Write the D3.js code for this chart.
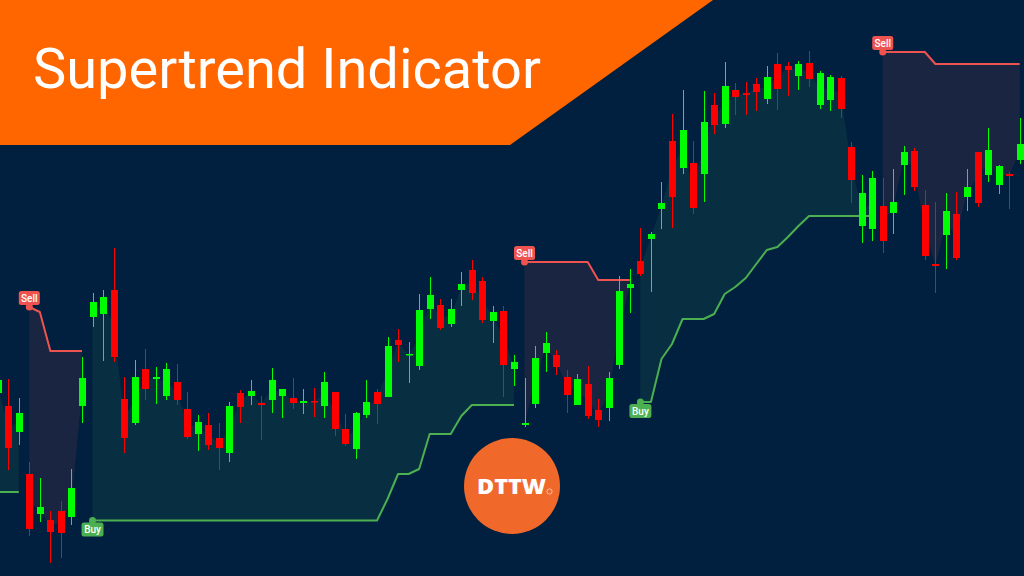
<!DOCTYPE html>
<html><head><meta charset="utf-8">
<script src="https://cdn.jsdelivr.net/npm/d3@7"></script>
<style>html,body{margin:0;padding:0;background:#01203f;overflow:hidden}</style>
</head><body>
<svg id="c" width="1024" height="576"></svg>
<script>
// ---- data (price units) ----
const opens  = [183,170,144,102,62,56,65,59,170,259,262,286,177,153,207,197,180,194,167,142,151,138,123,183,180,173,176,180,178,173,175,170,184,147,127,161,184,179,236,221,210,267,271,252,286,306,295,255,265,207,151,172,223,221,199,171,192,166,168,211,288,315,337,367,435,408,413,402,471,452,486,483,492,477,512,510,500,513,471,476,498,429,350,347,370,363,411,425,371,312,341,362,379,424,401,391,402,416];
const highs  = [202,197,178,114,98,65,75,107,219,283,286,328,199,216,227,209,213,212,184,161,163,153,174,186,196,180,208,187,198,187,188,204,184,162,164,196,187,239,247,234,282,299,277,277,304,316,299,270,270,221,198,230,244,226,206,202,210,177,204,300,307,348,344,394,462,486,435,485,483,514,493,494,498,510,523,514,515,525,505,501,500,434,401,405,398,407,430,428,386,374,383,384,407,424,448,411,404,458];
const lows   = [176,106,131,40,54,13,18,51,153,249,215,214,123,151,176,172,176,171,137,125,126,106,114,153,171,136,163,158,167,162,159,158,140,130,117,158,152,179,214,193,206,257,246,249,270,276,253,233,179,190,149,168,204,201,163,171,157,149,155,207,263,300,284,347,348,402,362,374,442,448,461,461,465,472,466,480,486,489,467,465,458,373,333,335,323,342,381,385,316,283,307,316,365,369,394,382,367,412];
const closes = [196,128,163,47,69,44,43,88,198,274,279,219,138,199,187,199,207,176,139,154,131,128,170,169,185,171,196,187,173,175,174,194,147,132,163,174,172,230,231,222,266,281,248,267,292,283,256,264,211,214,153,218,233,209,181,197,160,156,198,285,292,302,342,373,379,446,368,454,451,490,479,481,484,499,487,506,512,497,503,499,467,396,383,398,335,374,424,389,320,310,365,318,389,373,426,410,400,432];
const N = 98;
const upTrend = [84,84,84,null,null,null,null,null,null,
  55.5,55.5,55.5,55.5,55.5,55.5,55.5,55.5,55.5,55.5,55.5,55.5,55.5,55.5,55.5,55.5,55.5,55.5,55.5,55.5,55.5,55.5,55.5,55.5,55.5,55.5,55.5,55.5,
  77,102,102,107,142,142,142,160,171,171,171,171,171,
  null,null,null,null,null,null,null,null,null,null,null,
  174,174,217,232,257,257,257,262,282,289,298,312,326,329,339,350,360,360,360,360,360,360,360,
  null,null,null,null,null,null,null,null,null,null,null,null,null,null];
const downTrend = [null,null,null,269,264,225,225,225,225,
  null,null,null,null,null,null,null,null,null,null,null,null,null,null,null,null,null,null,null,null,null,null,null,null,null,null,null,null,
  null,null,null,null,null,null,null,null,null,null,null,null,null,
  314,314,314,314,314,314,314,296,296,296,296,
  null,null,null,null,null,null,null,null,null,null,null,null,null,null,null,null,null,null,null,null,null,null,null,
  524,524,524,524,524,512,512,512,512,512,512,512,512,512];
const signalIndex = [3, 9, 50, 61, 84];
const signalType  = ["Sell","Buy","Sell","Buy","Sell"];
const titleText = "Supertrend Indicator";
const logoText = "DTTW";

// ---- colours ----
const bg = "#01203f", upCol = "#00ff00", downCol = "#ff0000";
const stUp = "#4caf50", stDown = "#ef5350";

const svg = d3.select("#c");
const W = 1024, H = 576;
const x = d3.scaleLinear().domain([0, N - 1]).range([-2.3, 1019.7]);
const y = d3.scaleLinear().domain([0, 576]).range([576, 0]);

svg.append("rect").attr("width", W).attr("height", H).attr("fill", bg);

const idx = d3.range(N);
const mid = i => (opens[i] + closes[i]) / 2;

// fills
function fillArea(arr, col) {
  const a = d3.area().defined(i => arr[i] != null)
    .x(i => x(i)).y0(i => y(mid(i))).y1(i => y(arr[i]));
  svg.append("path").attr("d", a(idx)).attr("fill", col).attr("fill-opacity", 0.11);
}
fillArea(upTrend, stUp);
fillArea(downTrend, stDown);

// supertrend lines
function trendLine(arr, col) {
  const l = d3.line().defined(i => arr[i] != null).x(i => x(i)).y(i => y(arr[i]));
  svg.append("path").attr("d", l(idx)).attr("fill", "none").attr("stroke", col)
    .attr("stroke-width", 2).attr("stroke-linejoin", "round");
}
trendLine(upTrend, stUp);
trendLine(downTrend, stDown);

// candles
const cg = svg.append("g");
idx.forEach(i => {
  const up = closes[i] >= opens[i];
  const col = up ? upCol : downCol;
  const cx = Math.round(x(i));
  cg.append("line").attr("x1", cx + 0.5).attr("x2", cx + 0.5)
    .attr("y1", y(highs[i])).attr("y2", y(lows[i])).attr("stroke", col).attr("stroke-width", 1);
  const top = y(Math.max(opens[i], closes[i])), bot = y(Math.min(opens[i], closes[i]));
  cg.append("rect").attr("x", cx - 3).attr("width", 7)
    .attr("y", top).attr("height", Math.max(1.5, bot - top)).attr("fill", col);
});

// signal labels
signalIndex.forEach((i, k) => {
  const t = signalType[k];
  const isSell = t === "Sell";
  const v = isSell ? downTrend[i] : upTrend[i];
  const cx = x(i), cy = y(v);
  const col = isSell ? stDown : stUp;
  svg.append("circle").attr("cx", cx).attr("cy", cy).attr("r", 3.5).attr("fill", col);
  const bw = t === "Sell" ? 21 : 22, bh = 14;
  const by = isSell ? cy - 2 - bh : cy + 2;
  svg.append("rect").attr("x", cx - bw / 2).attr("y", by).attr("width", bw).attr("height", bh)
    .attr("rx", 2.5).attr("fill", col);
  svg.append("text").attr("x", cx).attr("y", by + 10.5).attr("text-anchor", "middle")
    .attr("font-family", "Roboto, sans-serif").attr("font-size", 10).attr("font-weight", 500)
    .attr("fill", "#ffffff").text(t);
});

// title banner
svg.append("path").attr("d", "M0,0 L713,0 L510,145 L0,145 Z").attr("fill", "#ff6600");
const title = svg.append("text").attr("x", 33).attr("y", 88)
  .attr("font-family", "Roboto, sans-serif").attr("font-size", 56).attr("fill", "#ffffff").text(titleText);
const tl = title.node().getComputedTextLength();
title.attr("font-size", 56 * 508 / tl);

// logo
svg.append("circle").attr("cx", 512).attr("cy", 486).attr("r", 48).attr("fill", "#f0682a");
svg.append("text").attr("x", 477).attr("y", 493.5)
  .attr("font-family", "'Open Sans', sans-serif").attr("font-weight", 800).attr("font-size", 21)
  .attr("textLength", 69).attr("lengthAdjust", "spacingAndGlyphs")
  .attr("fill", "#ffffff").text(logoText);
svg.append("circle").attr("cx", 549.5).attr("cy", 491.5).attr("r", 2.6)
  .attr("fill", "none").attr("stroke", "#ffffff").attr("stroke-opacity", 0.8).attr("stroke-width", 0.7);
</script>
</body></html>
